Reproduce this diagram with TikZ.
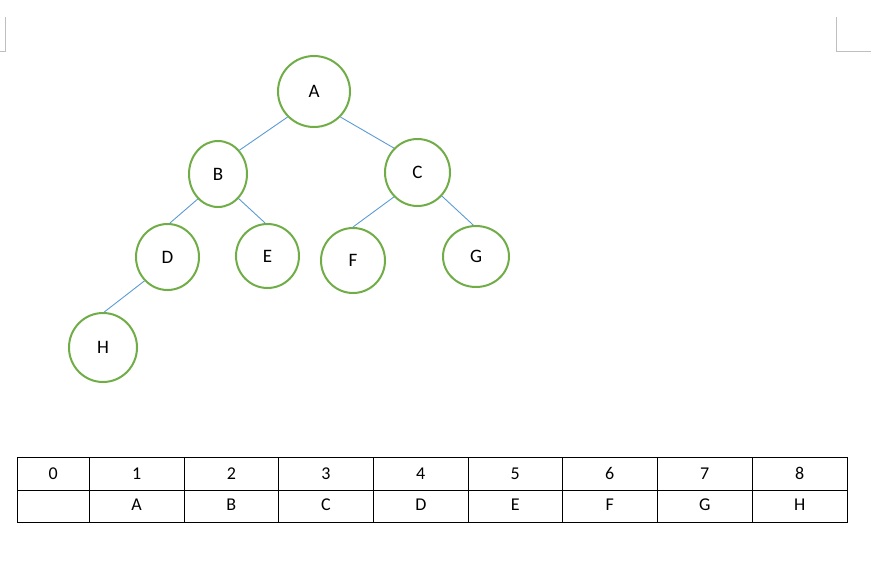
\documentclass[tikz,border=0pt]{standalone}
\usepackage{fontspec}
\setmainfont{Carlito}
\usetikzlibrary{shapes.geometric}
\definecolor{ringgreen}{HTML}{70AD47}
\definecolor{edgeblue}{HTML}{5B9BD5}
\definecolor{markgray}{HTML}{BFBFBF}
\tikzset{
  treenode/.style={ellipse, draw=ringgreen, line width=2pt, inner sep=0pt,
    font=\fontsize{19}{21}\selectfont, text=black, text height=12pt, text depth=0pt},
  treeedge/.style={draw=edgeblue, line width=0.9pt},
  cell/.style={rectangle, draw=black, line width=1pt, inner sep=0pt,
    minimum height=33.4pt, font=\fontsize{18}{20}\selectfont, anchor=center,
    text height=11.4pt, text depth=0pt},
  lowcell/.style={cell, minimum height=31.3pt, text depth=3.7pt},
  cornermark/.style={draw=markgray, line width=1pt}
}
\begin{document}
\begin{tikzpicture}[x=1pt,y=-1pt]
\useasboundingbox (0,0) rectangle (881,581);
% corner marks
\draw[cornermark] (5,17) -- (5,51) -- (0,51);
\draw[cornermark] (836,17) -- (836,51) -- (871,51);
% tree nodes
\node[treenode, minimum width=72pt, minimum height=71pt] (A) at (314,91.5) {A};
\node[treenode, minimum width=58pt, minimum height=66pt] (B) at (218,174) {B};
\node[treenode, minimum width=65pt, minimum height=67pt] (C) at (417.5,172.5) {C};
\node[treenode, minimum width=63pt, minimum height=66pt] (D) at (167.5,257) {D};
\node[treenode, minimum width=63pt, minimum height=64pt] (E) at (267.5,256) {E};
\node[treenode, minimum width=64pt, minimum height=65pt] (F) at (353,260.5) {F};
\node[treenode, minimum width=66pt, minimum height=61pt] (G) at (476,256.5) {G};
\node[treenode, minimum width=68pt, minimum height=69pt] (H) at (103,347.5) {H};
% edges
\draw[treeedge] (A.224) -- (B.48);
\draw[treeedge] (A.316) -- (C.134);
\draw[treeedge] (B.231) -- (D.86);
\draw[treeedge] (B.310) -- (E.94);
\draw[treeedge] (C.226) -- (F.90);
\draw[treeedge] (C.316) -- (G.95);
\draw[treeedge] (D.226) -- (H.88);
% table
\node[cell, minimum width=72pt] (h0) at (53.3,474) {0};
\node[lowcell, minimum width=72pt] (v0) at (53.3,506.35) {};
\foreach \i/\l/\r/\v in {1/89.3/184/A, 2/184/278.7/B, 3/278.7/373.3/C, 4/373.3/468.3/D,
  5/468.3/562.3/E, 6/562.3/657.3/F, 7/657.3/752.3/G, 8/752.3/847.3/H}{
  \pgfmathsetmacro{\cx}{(\l+\r)/2}
  \pgfmathsetmacro{\w}{\r-\l}
  \node[cell, minimum width=\w pt] (h\i) at (\cx,474) {\i};
  \node[lowcell, minimum width=\w pt] (v\i) at (\cx,506.35) {\v};
}
\end{tikzpicture}
\end{document}
